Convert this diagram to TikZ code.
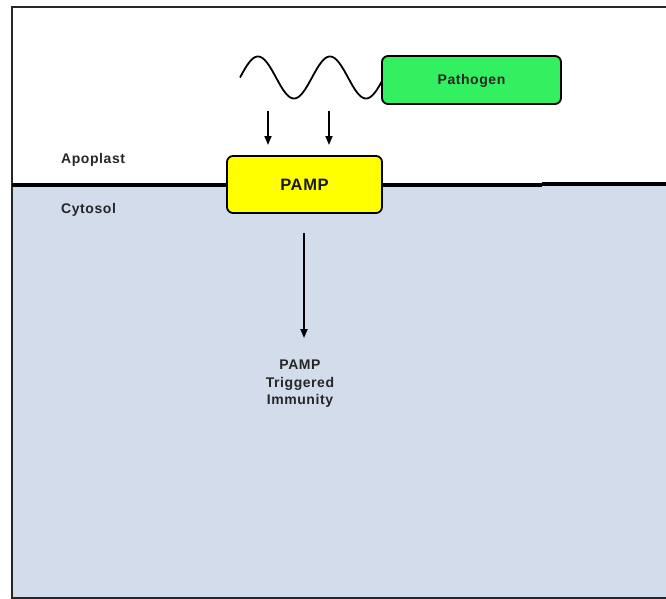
\documentclass[tikz,border=0pt]{standalone}
\usepackage{fontspec}
\setmainfont[LetterSpace=4]{Liberation Sans}
\usetikzlibrary{arrows.meta}
\definecolor{cyto}{RGB}{211,220,234}
\definecolor{pathgreen}{RGB}{50,240,95}
\definecolor{pampyellow}{RGB}{255,255,0}
\tikzset{
  lbl/.style={font=\fontsize{14}{17.5}\selectfont\bfseries, text=black!85, inner sep=0pt},
  boxstyle/.style={draw=black, line width=1.8pt, rounded corners=6pt, inner sep=0pt, text depth=0pt},
  arr/.style={line width=1.7pt, -{Triangle[width=7pt,length=9pt]}},
  frame/.style={line width=2pt, draw=black!85},
  membrane/.style={line width=4pt, draw=black},
}
\begin{document}
\begin{tikzpicture}[x=1pt,y=-1pt]
\useasboundingbox (0,0) rectangle (666,599);
% cytosol area
\fill[cyto] (12,185) rectangle (666,598);
% frame
\draw[frame] (666,7) -- (12,7) -- (12,598) -- (666,598);
% membrane
\coordinate (memL) at (12,184.5);
\coordinate (memM) at (542,184.5);
\coordinate (memN) at (542,183.5);
\coordinate (memR) at (666,183.5);
\draw[membrane] (memL) -- (memM);
\draw[membrane] (memN) -- (memR);
% compartment labels
\node[lbl, anchor=west] (apo) at (61,160) {Apoplast};
\node[lbl, anchor=west] (cyt) at (61,210) {Cytosol};
% pathogen
\node[boxstyle, fill=pathgreen, minimum width=179pt, minimum height=48pt, text height=10pt, font=\fontsize{14}{17}\selectfont\bfseries, text=black!85] (path) at (471.5,80) {Pathogen};
% wave (flagellin)
\draw[line width=1.8pt] plot[domain=240:382, samples=120, smooth] (\x, {77.5 - 21*sin(5*(\x-240))});
% PAMP receptor
\node[boxstyle, fill=pampyellow, minimum width=155pt, minimum height=57pt, text height=11.8pt, font=\fontsize{16.5}{19}\selectfont\bfseries, text=black!90] (pamp) at (304.5,184.5) {PAMP};
% arrows from wave to PAMP
\coordinate (w1) at (268,111);
\coordinate (w1e) at (268,145);
\coordinate (w2) at (329,111);
\coordinate (w2e) at (329,145);
\draw[arr] (w1) -- (w1e);
\draw[arr] (w2) -- (w2e);
% PTI
\node[lbl, align=center] (pti) at (300,384) {PAMP\\Triggered\\Immunity};
\coordinate (ps) at (304,233);
\coordinate (pe) at (304,338);
\draw[arr] (ps) -- (pe);
\end{tikzpicture}
\end{document}
